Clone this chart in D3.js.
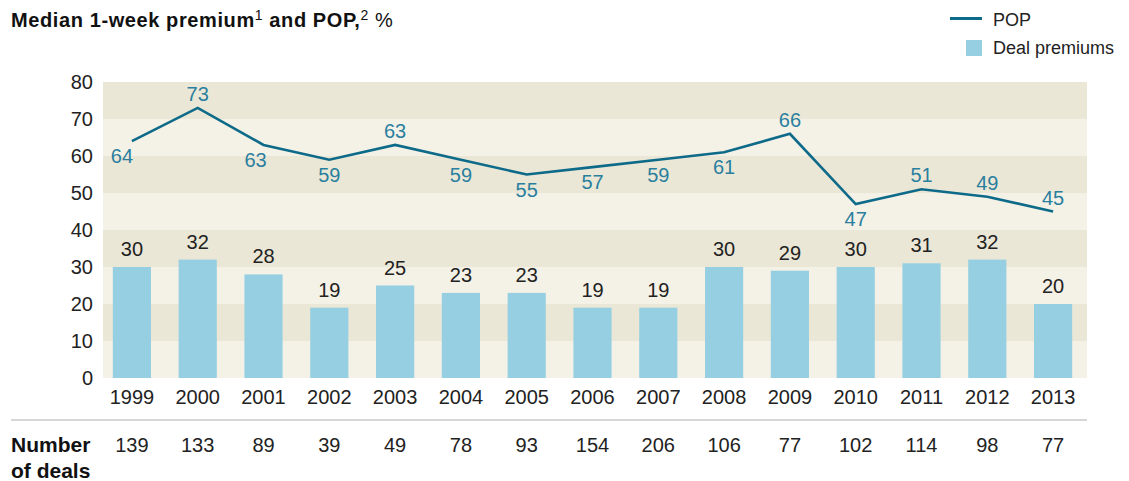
<!DOCTYPE html>
<html>
<head>
<meta charset="utf-8">
<script src="https://cdn.jsdelivr.net/npm/d3@7"></script>
<style>
  body { margin: 0; background: #fff; }
  svg text { font-family: "Liberation Sans", Arial, sans-serif; }
</style>
</head>
<body>
<div id="chart"></div>
<script>
// chart data
const years = ["1999","2000","2001","2002","2003","2004","2005","2006","2007","2008","2009","2010","2011","2012","2013"];
const dealPremiums = [30, 32, 28, 19, 25, 23, 23, 19, 19, 30, 29, 30, 31, 32, 20];
const pop = [64, 73, 63, 59, 63, 59, 55, 57, 59, 61, 66, 47, 51, 49, 45];
const popLabelSide = ["below","above","below","below","above","below","below","below","below","below","above","below","above","above","above"];
const numberOfDeals = [139, 133, 89, 39, 49, 78, 93, 154, 206, 106, 77, 102, 114, 98, 77];
const yTicks = [0, 10, 20, 30, 40, 50, 60, 70, 80];

const width = 1129, height = 481;
const plotLeft = 103, plotRight = 1087, plotTop = 82, plotBottom = 378;

const svg = d3.select("#chart").append("svg")
  .attr("width", width)
  .attr("height", height);

const x = d3.scaleBand()
  .domain(years)
  .range([99, 1086])
  .paddingInner(0.42)
  .paddingOuter(0.21);

const y = d3.scaleLinear()
  .domain([0, 80])
  .range([plotBottom, plotTop]);

// background bands
const bands = d3.range(0, 80, 10);
svg.append("g").selectAll("rect")
  .data(bands)
  .enter().append("rect")
  .attr("x", plotLeft)
  .attr("width", plotRight - plotLeft)
  .attr("y", d => y(d + 10))
  .attr("height", d => y(d) - y(d + 10))
  .attr("fill", d => (d / 10) % 2 === 1 ? "#ebe7d6" : "#f4f1e6");

// y axis labels
const yAxis = svg.append("g")
  .attr("transform", "translate(" + plotLeft + ",0)")
  .call(d3.axisLeft(y).tickValues(yTicks).tickSize(0).tickPadding(10));
yAxis.select(".domain").remove();
yAxis.selectAll("text")
  .attr("font-size", 20)
  .attr("fill", "#222")
  .style("font-family", "Liberation Sans, Arial, sans-serif");

// bars
svg.append("g").selectAll("rect")
  .data(dealPremiums)
  .enter().append("rect")
  .attr("x", (d, i) => x(years[i]))
  .attr("width", x.bandwidth())
  .attr("y", d => y(d))
  .attr("height", d => y(0) - y(d))
  .attr("fill", "#96cfe1");

svg.append("g").selectAll("text")
  .data(dealPremiums)
  .enter().append("text")
  .attr("x", (d, i) => x(years[i]) + x.bandwidth() / 2)
  .attr("y", d => y(d) - 11)
  .attr("text-anchor", "middle")
  .attr("font-size", 20)
  .attr("fill", "#222")
  .text(d => d);

// POP line
const line = d3.line()
  .x((d, i) => x(years[i]) + x.bandwidth() / 2)
  .y(d => y(d));

svg.append("path")
  .datum(pop)
  .attr("d", line)
  .attr("fill", "none")
  .attr("stroke", "#0e6a89")
  .attr("stroke-width", 2.6);

svg.append("g").selectAll("text")
  .data(pop)
  .enter().append("text")
  .attr("x", (d, i) => x(years[i]) + x.bandwidth() / 2 + (i === 0 ? -10 : i === 2 ? -8 : 0))
  .attr("y", (d, i) => popLabelSide[i] === "above" ? y(d) - 7 : y(d) + 22)
  .attr("text-anchor", "middle")
  .attr("font-size", 20)
  .attr("fill", "#2a7f9f")
  .text(d => d);

// x axis labels
const xAxis = svg.append("g")
  .attr("transform", "translate(0," + plotBottom + ")")
  .call(d3.axisBottom(x).tickSize(0).tickPadding(12));
xAxis.select(".domain").remove();
xAxis.selectAll("text")
  .attr("font-size", 20)
  .attr("fill", "#222")
  .style("font-family", "Liberation Sans, Arial, sans-serif");

// separator
svg.append("line")
  .attr("x1", 11).attr("x2", plotRight)
  .attr("y1", 420).attr("y2", 420)
  .attr("stroke", "#c8c8c8")
  .attr("stroke-width", 1.5);

// number of deals row
svg.append("text")
  .attr("x", 11).attr("y", 452)
  .attr("font-size", 21).attr("font-weight", "bold").attr("fill", "#111")
  .text("Number");
svg.append("text")
  .attr("x", 11).attr("y", 478)
  .attr("font-size", 21).attr("font-weight", "bold").attr("fill", "#111")
  .text("of deals");

svg.append("g").selectAll("text")
  .data(numberOfDeals)
  .enter().append("text")
  .attr("x", (d, i) => x(years[i]) + x.bandwidth() / 2)
  .attr("y", 452)
  .attr("text-anchor", "middle")
  .attr("font-size", 20)
  .attr("fill", "#222")
  .text(d => d);

// title
const title = svg.append("text")
  .attr("x", 11).attr("y", 27)
  .attr("font-size", 20)
  .attr("letter-spacing", 0.6)
  .attr("fill", "#111");
title.append("tspan").attr("font-weight", "bold").text("Median 1-week premium");
title.append("tspan").attr("font-size", 14).attr("dy", -7).text("1");
title.append("tspan").attr("font-weight", "bold").attr("dy", 7).text(" and POP,");
title.append("tspan").attr("font-size", 14).attr("dy", -7).text("2");
title.append("tspan").attr("dy", 7).text(" %");

// legend
const legend = svg.append("g");
legend.append("line")
  .attr("x1", 950).attr("x2", 982)
  .attr("y1", 18.5).attr("y2", 18.5)
  .attr("stroke", "#0e6a89")
  .attr("stroke-width", 3);
legend.append("text")
  .attr("x", 993).attr("y", 26)
  .attr("font-size", 18).attr("fill", "#222")
  .text("POP");
legend.append("rect")
  .attr("x", 966).attr("y", 40)
  .attr("width", 16).attr("height", 16)
  .attr("fill", "#96cfe1");
legend.append("text")
  .attr("x", 993).attr("y", 54)
  .attr("font-size", 18).attr("fill", "#222")
  .text("Deal premiums");
</script>
</body>
</html>
